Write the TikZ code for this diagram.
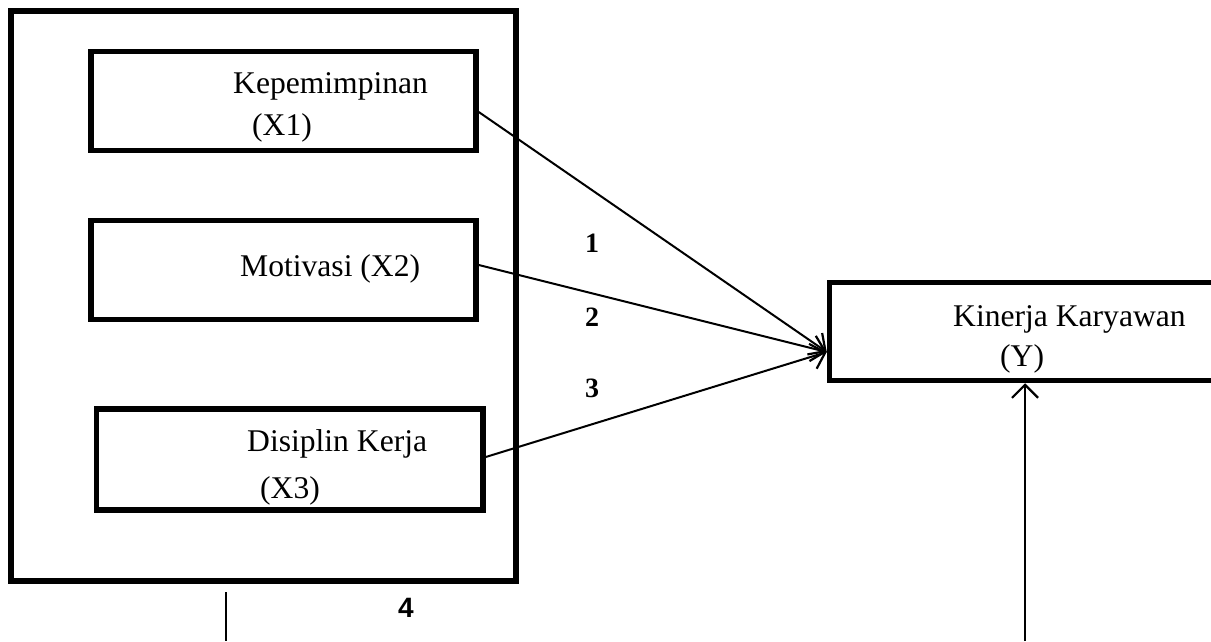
\documentclass[tikz,border=0pt]{standalone}
\usepackage{fontspec}
\setmainfont{Liberation Serif}
\newfontfamily\arialf{Liberation Sans}
\usetikzlibrary{arrows.meta}
\begin{document}
\begin{tikzpicture}[x=1pt,y=-1pt,
  thickbox/.style={draw,line width=5.5pt,minimum width=#1,inner sep=0pt},
  lbl/.style={anchor=base west,inner sep=0pt,font=\fontsize{31.6}{36}\selectfont},
  numlbl/.style={inner sep=0pt,font=\bfseries\fontsize{28}{32}\selectfont},
  conn/.style={line width=2pt},
  arr/.style={conn,-{Straight Barb[length=13pt,width=26pt,line width=2.2pt]}}]
\useasboundingbox (0,0) rectangle (1211,641);
% outer box
\node[thickbox=505pt,minimum height=570pt] (outer) at (263.5,296) {};
% inner boxes
\node[thickbox=385pt,minimum height=99pt] (b1) at (283.5,101) {};
\node[thickbox=385pt,minimum height=99pt] (b2) at (283.5,270) {};
\node[thickbox=386.5pt,minimum height=101pt] (b3) at (289.75,459.5) {};
% target box (runs past the right edge)
\node[thickbox=450pt,minimum height=98pt] (kin) at (1054.5,331.5) {};
% texts
\node[lbl] (t1a) at (233,93) {Kepemimpinan};
\node[lbl] (t1b) at (252,135) {(X1)};
\node[lbl] (t2) at (240,276) {Motivasi (X2)};
\node[lbl] (t3a) at (247,451) {Disiplin Kerja};
\node[lbl] (t3b) at (260,498) {(X3)};
\node[lbl] (tya) at (953,326) {Kinerja Karyawan};
\node[lbl] (tyb) at (1000,366) {(Y)};
% numbers
\node[numlbl] (n1) at (592,243) {1};
\node[numlbl] (n2) at (592,317) {2};
\node[numlbl] (n3) at (592,388) {3};
\node[inner sep=0pt,font=\arialf\bfseries\fontsize{28}{32}\selectfont] (n4) at (406,608) {4};
% connectors
\draw[arr] ([yshift=-11pt]b1.east) -- ([yshift=-20.5pt]kin.west);
\draw[arr] ([yshift=5pt]b2.east) -- ([yshift=-20.5pt]kin.west);
\draw[arr] ([yshift=2.5pt]b3.east) -- ([yshift=-20.5pt]kin.west);
\coordinate (lt) at (226,592);
\coordinate (lb) at (226,641);
\draw[conn] (lt) -- (lb);
\coordinate (rb) at (1025,641);
\draw[arr] (rb) -- (rb |- kin.south);
\end{tikzpicture}
\end{document}
